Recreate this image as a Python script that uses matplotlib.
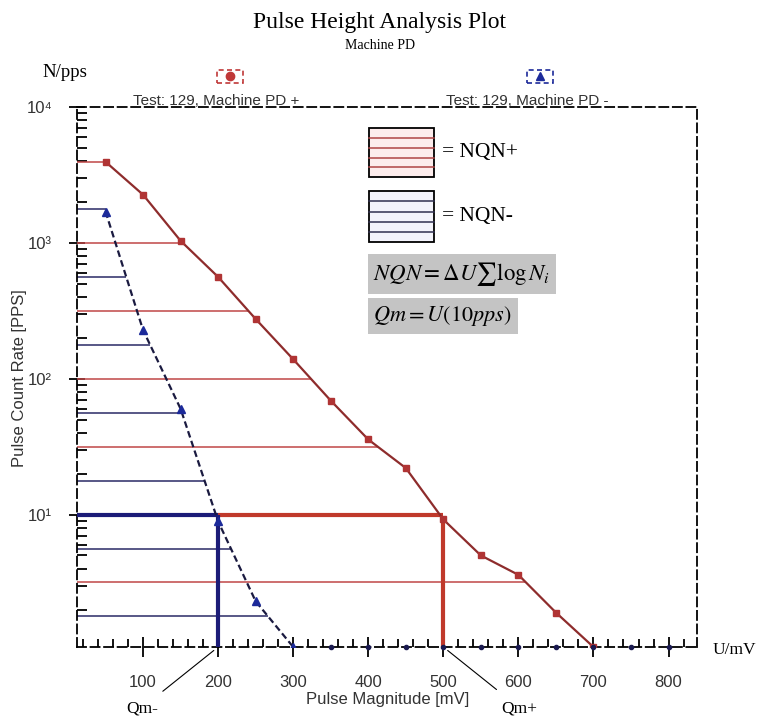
import numpy as np
import matplotlib
matplotlib.use('Agg')
import matplotlib.pyplot as plt
from matplotlib.patches import Rectangle
from matplotlib.lines import Line2D
from matplotlib.ticker import FixedLocator, LogLocator, NullFormatter, MultipleLocator

plt.rcParams['mathtext.fontset'] = 'stix'

# dados
u_pos = [50, 100, 150, 200, 250, 300, 350, 400, 450, 500, 550, 600, 650, 700]
n_pos = [3950, 2260, 1035, 561, 275, 139, 69, 35.7, 22, 9.2, 5.0, 3.6, 1.9, 1.06]

u_neg = [50, 100, 150, 200, 250, 300]
n_neg = [1700, 228, 60, 8.9, 2.3, 1.06]

# pontos do PD- que ficam no piso do eixo
u_neg_floor = [350, 400, 450, 500, 550, 600, 650, 700, 750, 800]
n_neg_floor = [1.06] * len(u_neg_floor)

# niveis das faixas NQN (em log10)
niveis_pos = [0.5, 1.5, 2.0, 2.5, 3.0]
niveis_neg = [0.25, 0.75, 1.25, 1.75, 2.25, 2.75, 3.25]
nivel_qm = 10
qm_neg = 200
qm_pos = 500

x_ticks = [100, 200, 300, 400, 500, 600, 700, 800]
y_ticks = [10, 100, 1000, 10000]
y_labels = ['10\u00b9', '10\u00b2', '10\u00b3', '10\u2074']

XMIN, XMAX = 12, 838
YMIN, YMAX = 1.06, 10000

VERMELHO = '#c04646'
VERM_ESC = '#8e2c2c'
AZUL = '#2a2a66'
AZUL_ESC = '#1c1c78'

sans = ['Liberation Sans', 'DejaVu Sans']
serif = ['Liberation Serif', 'DejaVu Serif']


def cruzamento(us, ns, nivel):
    # onde a curva cruza o nivel (interpolacao em log)
    return np.interp(np.log10(nivel), np.log10(ns[::-1]), us[::-1])


fig = plt.figure(figsize=(7.58, 7.18), dpi=100)
ax = fig.add_axes([0.1016, 0.0989, 0.818, 0.7521])
ax.set_yscale('log')
ax.set_xlim(XMIN, XMAX)
ax.set_ylim(YMIN, YMAX)

# faixas NQN+
for k in niveis_pos:
    nivel = 10 ** k
    ax.hlines(nivel, XMIN, cruzamento(u_pos, n_pos, nivel), color=VERMELHO, lw=1.1, zorder=2)
ax.hlines(n_pos[0], XMIN, u_pos[0], color=VERMELHO, lw=1.1, zorder=2)

# faixas NQN-
for k in niveis_neg:
    nivel = 10 ** k
    ax.hlines(nivel, XMIN, cruzamento(u_neg, n_neg, nivel), color=AZUL, lw=1.1, zorder=2)

# Qm em 10 pps
ax.hlines(nivel_qm, XMIN, qm_neg, color=AZUL_ESC, lw=3, zorder=3)
ax.hlines(nivel_qm, qm_neg, qm_pos, color='#c0392b', lw=3, zorder=3)
ax.vlines(qm_neg, YMIN, nivel_qm, color=AZUL_ESC, lw=3, zorder=3)
ax.vlines(qm_pos, YMIN, nivel_qm * 0.92, color='#c0392b', lw=3, zorder=3)

# curvas
ax.plot(u_pos, n_pos, color=VERM_ESC, lw=1.6, marker='s', ms=4.5,
        mfc='#b03434', mec='#b03434', zorder=4)
ax.plot(u_neg, n_neg, color='#1a1a40', lw=1.6, ls=(0, (3, 1.6)), marker='^', ms=6,
        mfc='#1c2a9a', mec='#1c2a9a', zorder=4)
ax.plot(u_neg_floor, n_neg_floor, ls='none', marker='o', ms=3, color='#1a1a50',
        clip_on=False, zorder=5)

# eixos tracejados
for s in ax.spines.values():
    s.set_linestyle((0, (5, 2.5)))
    s.set_linewidth(1.3)
    s.set_color('black')

ax.xaxis.set_major_locator(FixedLocator(x_ticks))
ax.xaxis.set_minor_locator(MultipleLocator(20))
ax.set_xticklabels([str(v) for v in x_ticks], family=sans, fontsize=12, color='#333333')
ax.tick_params(axis='x', which='major', direction='inout', length=14, width=1.3, pad=13)
ax.tick_params(axis='x', which='minor', direction='in', length=6, width=1.3)

ax.yaxis.set_major_locator(FixedLocator(y_ticks))
ax.yaxis.set_minor_locator(LogLocator(base=10, subs=np.arange(2, 10)))
ax.yaxis.set_minor_formatter(NullFormatter())
ax.set_yticklabels(y_labels, family=sans, fontsize=12, color='#333333')
ax.tick_params(axis='y', which='major', direction='inout', length=12, width=1.3, pad=12)
ax.tick_params(axis='y', which='minor', direction='in', length=7, width=1.3)

# legenda das faixas
def caixa(y0, y1, cor_fundo, cor_linha, texto):
    x0, x1 = 0.471, 0.576
    ax.add_patch(Rectangle((x0, y0), x1 - x0, y1 - y0, transform=ax.transAxes,
                           fc=cor_fundo, ec='black', lw=1.3, zorder=6))
    for yy in np.linspace(y0, y1, 6)[1:-1]:
        ax.plot([x0, x1], [yy, yy], transform=ax.transAxes, color=cor_linha, lw=1.1, zorder=7)
    ax.text(0.588, (y0 + y1) / 2, texto, transform=ax.transAxes, family=serif,
            fontsize=15.5, va='center', ha='left', zorder=7)

caixa(0.870, 0.961, '#fdecec', '#b04444', '= NQN+')
caixa(0.750, 0.844, '#f3f3fb', '#303050', '= NQN-')

cinza = dict(boxstyle='square,pad=0.25', fc='#c4c4c4', ec='none')
ax.text(0.478, 0.691, r'$NQN = \Delta U\sum\log N_i$', transform=ax.transAxes,
        fontsize=16.5, va='center', ha='left', bbox=cinza, zorder=7)
ax.text(0.478, 0.613, r'$Qm = U(10pps)$', transform=ax.transAxes,
        fontsize=16, va='center', ha='left', bbox=cinza, zorder=7)

# Qm- e Qm+
ax.annotate('Qm-', xy=(qm_neg, YMIN), xytext=(-55, -44), textcoords='offset points',
            family=serif, fontsize=12.5, ha='center', va='center', annotation_clip=False,
            arrowprops=dict(arrowstyle='-', color='black', lw=0.8, shrinkA=7, shrinkB=4))
ax.annotate('Qm+', xy=(qm_pos, YMIN), xytext=(55, -44), textcoords='offset points',
            family=serif, fontsize=12.5, ha='center', va='center', annotation_clip=False,
            arrowprops=dict(arrowstyle='-', color='black', lw=0.8, shrinkA=9, shrinkB=4))

# textos da figura
fig.text(0.501, 0.968, 'Pulse Height Analysis Plot', family=serif, fontsize=17,
         ha='center', va='center')
fig.text(0.501, 0.937, 'Machine PD', family=serif, fontsize=10, ha='center', va='center')
fig.text(0.086, 0.899, 'N/pps', family=serif, fontsize=13.5, ha='center', va='center')
fig.text(0.969, 0.095, 'U/mV', family=serif, fontsize=12.5, ha='center', va='center')
fig.text(0.026, 0.474, 'Pulse Count Rate [PPS]', family=sans, fontsize=12, rotation=90,
         ha='center', va='center', color='#333333')
fig.text(0.511, 0.026, 'Pulse Magnitude [mV]', family=sans, fontsize=12,
         ha='center', va='center', color='#333333')

# legenda das series no topo
fig.text(0.285, 0.859, 'Test: 129, Machine PD +', family=sans, fontsize=11,
         ha='center', va='center', color='#333333')
fig.text(0.695, 0.859, 'Test: 129, Machine PD -', family=sans, fontsize=11,
         ha='center', va='center', color='#333333')
for xc, cor, mk in [(0.303, '#c03838', 'o'), (0.712, '#1c2a9a', '^')]:
    fig.add_artist(Rectangle((xc - 0.017, 0.885), 0.034, 0.017, transform=fig.transFigure,
                             fc='none', ec=cor, lw=1.2, ls=(0, (3, 2))))
    fig.add_artist(Line2D([xc], [0.8935], transform=fig.transFigure, marker=mk, ms=6,
                          color=cor, ls='none'))

fig.savefig('out.png', dpi=100)
